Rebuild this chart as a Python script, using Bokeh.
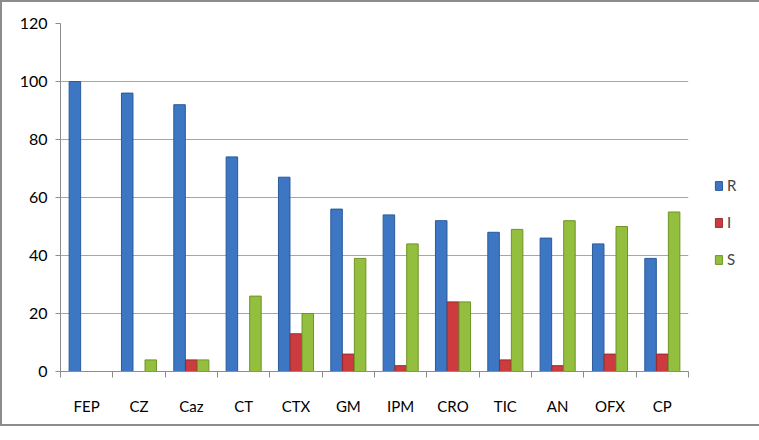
from bokeh.plotting import figure
from bokeh.models import ColumnDataSource, FixedTicker, Legend, LegendItem, Range1d
from bokeh.transform import dodge
from bokeh.embed import file_html
from bokeh.resources import INLINE

categories = ["FEP", "CZ", "Caz", "CT", "CTX", "GM", "IPM", "CRO", "TIC", "AN", "OFX", "CP"]
R = [100, 96, 92, 74, 67, 56, 54, 52, 48, 46, 44, 39]
I = [0, 0, 4, 0, 13, 6, 2, 24, 4, 2, 6, 6]
S = [0, 4, 4, 26, 20, 39, 44, 24, 49, 52, 50, 55]
y_ticks = [0, 20, 40, 60, 80, 100, 120]

FONT = "Lato"

xpos = [i + 0.5 for i in range(len(categories))]
src = ColumnDataSource(dict(x=xpos, R=R, I=I, S=S))

p = figure(frame_width=628, frame_height=348, output_backend="svg", toolbar_location=None,
           x_range=Range1d(0, len(categories)), y_range=Range1d(0, 120),
           min_border_left=58, min_border_top=21, min_border_bottom=53, min_border_right=55)
p.styles = {"border": "2px solid #8c8c8c"}

colors = {"R": ("#3d77c3", "#2a5a9a"), "I": ("#cc3b3d", "#9a2a2c"), "S": ("#93be3e", "#6e9428")}
offs = {"R": -0.225, "I": 0.0, "S": 0.225}
renderers = {}
for k in ["R", "I", "S"]:
    renderers[k] = p.vbar(x=dodge("x", offs[k]), top=k, width=0.22, bottom=0, source=src,
                          fill_color=colors[k][0], line_color=colors[k][1], line_width=1)

p.outline_line_color = None
p.xgrid.grid_line_color = None
p.ygrid.grid_line_color = "#a6a6a6"
p.ygrid.grid_line_width = 1
p.yaxis.ticker = FixedTicker(ticks=y_ticks)
p.xaxis.ticker = FixedTicker(ticks=xpos, minor_ticks=list(range(len(categories) + 1)))
p.xaxis.major_label_overrides = {x: c for x, c in zip(xpos, categories)}
p.xaxis.major_tick_line_color = None
p.xaxis.minor_tick_line_color = "#8c8c8c"
p.xaxis.minor_tick_in = 0
p.xaxis.minor_tick_out = 6
p.xaxis.major_label_standoff = 19

for ax in (p.xaxis, p.yaxis):
    ax.axis_line_color = "#8c8c8c"
    ax.major_label_text_font = FONT
    ax.major_label_text_font_size = "15px"
    ax.major_label_text_color = "#000000"
p.yaxis.major_tick_line_color = "#8c8c8c"
p.yaxis.major_tick_in = 0
p.yaxis.major_tick_out = 5
p.yaxis.minor_tick_line_color = None
p.yaxis.major_label_text_font_size = "16px"
p.yaxis.major_label_standoff = 8

legend = Legend(items=[LegendItem(label=k, renderers=[renderers[k]]) for k in ["R", "I", "S"]],
                location=(26, 103), border_line_color=None, background_fill_alpha=0,
                label_text_font=FONT, label_text_font_size="15px",
                glyph_width=9, glyph_height=11, spacing=19, label_standoff=4,
                margin=0, padding=0)
p.add_layout(legend, "right")

open("out.html", "w").write(file_html(p, INLINE))
